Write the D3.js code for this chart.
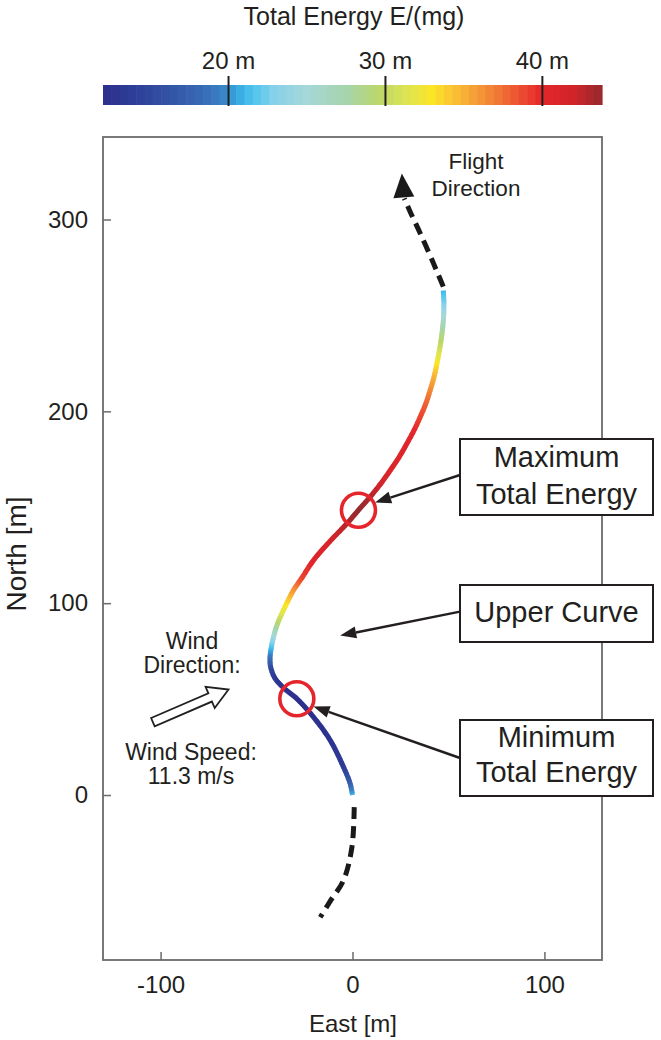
<!DOCTYPE html>
<html><head><meta charset="utf-8">
<script src="https://cdn.jsdelivr.net/npm/d3@7"></script>
<style>
body{margin:0;background:#fff}
text{font-family:"Liberation Sans",Arial,Helvetica,sans-serif;fill:#231f20}
</style>
</head><body>
<svg id="chart" width="661" height="1040"></svg>
<script>
// ---------- data ----------
// trajectory segment with energy colouring (East [m], North [m], E/(mg) [m])
const eastM  = [0, -1.2, -4.7, -11.6, -20.3, -29, -35.5, -40.3, -42.5, -43, -42.3, -41, -39.2, -36.8, -34, -30.8, -26.5, -20.3, -12, -2.9, 3.1, 9.2, 14.5, 19.7, 24.5, 28.4, 32, 35.3, 38.2, 40.5, 42.5, 44, 45.5, 46.8, 47.5, 47.6, 47.3];
const northM = [0, 5.9, 14.6, 28.5, 40.6, 50.2, 55.5, 60.7, 66, 71, 77, 83, 89, 94.6, 100.5, 106.7, 113, 122.4, 132, 141.5, 148.5, 155.4, 162, 169.3, 176.5, 183.3, 190, 197.1, 204, 211.1, 218, 225, 233, 242, 250, 257, 263];
const energy = [21, 17.5, 13.5, 12.5, 12.2, 12, 12.3, 13, 15, 18.5, 21.5, 25, 29, 31.5, 33.5, 36, 39, 40.3, 41.5, 43, 43.8, 43, 41.8, 41, 40.6, 40.5, 40, 39, 38, 36.5, 35, 33, 30.5, 28, 25, 22.5, 21];
// dashed continuation before and after
const lowerDashEast  = [0.9, -0.3, -4.7, -11.6, -16.8];
const lowerDashNorth = [-6.3, -27.2, -44.5, -55.3, -63.7];
const upperDashEast  = [47.3, 44.8, 41.4, 35.2, 30.5, 27];
const upperDashNorth = [265, 271, 279, 293, 303, 311];
const flightTip = [25.7, 324];
// marked points
const markEast  = [3.1, -29];
const markNorth = [148.4, 50.2];
// ticks
const xTicks = [-100, 0, 100];
const yTicks = [0, 100, 200, 300];
const cbTicks = [20, 30, 40];
const cbTickLabels = ["20 m", "30 m", "40 m"];
// colour map of the colour bar
const cbStops  = [12, 14, 16, 18, 19.5, 20.5, 21.5, 23, 25, 27.5, 29.5, 31.5, 33, 34.5, 36.5, 38.5, 40, 42, 43.8];
const cbColors = ["#2c2f8c","#2e3f99","#3251a3","#3767b2","#3a7fc2","#35a6df","#4dc3ee","#8ad1ea","#a5d8d8","#a6d4ac","#bad66c","#e0e54f","#fbe525","#f9bd35","#f38a36","#ec5231","#e4262b","#d02429","#952a2e"];
// annotation labels
const boxLabels = [["Maximum","Total Energy"],["Upper Curve"],["Minimum","Total Energy"]];
const boxTipEast  = [11.8, -6.4, -20.3];
const boxTipNorth = [152.5, 83.1, 46.1];

// ---------- layout ----------
const svg = d3.select("#chart");
const x = d3.scaleLinear().domain([-130, 130]).range([103, 602]);
const y = d3.scaleLinear().domain([-86, 343]).range([960, 137]);
const cbDomain = [12, 43.8];
const cb = d3.scaleLinear().domain(cbDomain).range([103, 602]);
const color = d3.scaleLinear().domain(cbStops).range(cbColors).interpolate(d3.interpolateRgb).clamp(true);
const ink = "#231f20";

// ---------- colour bar ----------
const nBlocks = 60;
const bw = (cbDomain[1] - cbDomain[0]) / nBlocks;
const blocks = d3.range(nBlocks).map(i => cbDomain[0] + i * bw);
svg.append("g").selectAll("rect").data(blocks).join("rect")
  .attr("x", d => cb(d)).attr("y", 85)
  .attr("width", d => cb(d + bw) - cb(d) + 0.6).attr("height", 20)
  .attr("fill", d => color(d + bw / 2));
svg.append("g").selectAll("line").data(cbTicks).join("line")
  .attr("x1", d => cb(d)).attr("x2", d => cb(d)).attr("y1", 76).attr("y2", 106)
  .attr("stroke", ink).attr("stroke-width", 2);
svg.append("g").selectAll("text").data(cbTicks).join("text")
  .attr("x", d => cb(d)).attr("y", 69).attr("text-anchor", "middle")
  .attr("font-size", 24).text((d, i) => cbTickLabels[i]);
svg.append("text").attr("x", 354).attr("y", 25).attr("text-anchor", "middle")
  .attr("font-size", 25).text("Total Energy E/(mg)");

// ---------- frame and axes ----------
svg.append("rect").attr("x", 103).attr("y", 137).attr("width", 499).attr("height", 823)
  .attr("fill", "none").attr("stroke", "#6b6b6b").attr("stroke-width", 1.8);

const gx = svg.append("g").attr("transform", "translate(0,960)")
  .call(d3.axisBottom(x).tickValues(xTicks).tickSize(-8).tickPadding(16).tickFormat(d3.format("d")));
const gy = svg.append("g").attr("transform", "translate(103,0)")
  .call(d3.axisLeft(y).tickValues(yTicks).tickSize(-8).tickPadding(15).tickFormat(d3.format("d")));
[gx, gy].forEach(g => {
  g.select(".domain").remove();
  g.selectAll(".tick line").attr("stroke", "#6b6b6b").attr("stroke-width", 1.5);
  g.selectAll(".tick text").attr("font-size", 24).attr("font-family", '"Liberation Sans",Arial,sans-serif').attr("fill", ink);
});
gx.selectAll(".tick text").text(d => d < 0 ? "-" + Math.abs(d) : d);

svg.append("text").attr("x", 353).attr("y", 1032).attr("text-anchor", "middle")
  .attr("font-size", 24).text("East [m]");
svg.append("text").attr("transform", "translate(26,554) rotate(-90)").attr("text-anchor", "middle")
  .attr("font-size", 28).text("North [m]");

// ---------- trajectory (colour coded) ----------
const lineGen = d3.line().curve(d3.curveCatmullRom.alpha(0.5));
const pts = eastM.map((e, i) => [x(e), y(northM[i])]);
const guide = svg.append("path").attr("d", lineGen(pts)).attr("fill", "none").attr("stroke", "none");
const probe = svg.append("path").attr("fill", "none").attr("stroke", "none");
const gNode = guide.node();
const total = gNode.getTotalLength();
const cum = pts.map((p, i) => {
  if (i === 0) return 0;
  probe.attr("d", lineGen(pts.slice(0, i + 1)));
  return probe.node().getTotalLength();
});
cum[cum.length - 1] = total;
const lenToE = d3.scaleLinear().domain(cum).range(energy).clamp(true);
const step = 1.5;
const segs = [];
for (let s = 0; s < total; s += step) {
  const a = gNode.getPointAtLength(s);
  const b = gNode.getPointAtLength(Math.min(s + step + 0.7, total));
  segs.push({a, b, e: lenToE(s + step / 2)});
}
probe.remove();
svg.append("g").selectAll("line").data(segs).join("line")
  .attr("x1", d => d.a.x).attr("y1", d => d.a.y).attr("x2", d => d.b.x).attr("y2", d => d.b.y)
  .attr("stroke", d => color(d.e)).attr("stroke-width", 5).attr("stroke-linecap", "butt");

// ---------- dashed continuations ----------
const dashLine = d3.line().x(d => x(d[0])).y(d => y(d[1])).curve(d3.curveCatmullRom.alpha(0.5));
const lowerPts = lowerDashEast.map((e, i) => [e, lowerDashNorth[i]]);
const upperPts = upperDashEast.map((e, i) => [e, upperDashNorth[i]]);
[lowerPts, upperPts].forEach(p => {
  svg.append("path").attr("d", dashLine(p)).attr("fill", "none")
    .attr("stroke", "#1a1a1a").attr("stroke-width", 5).attr("stroke-dasharray", "12,7");
});
// flight direction arrowhead
function arrowHead(fx, fy, tx, ty, len, hw) {
  const dx = tx - fx, dy = ty - fy, L = Math.hypot(dx, dy);
  const ux = dx / L, uy = dy / L, bx = tx - ux * len, by = ty - uy * len;
  return {base: [bx, by], pts: [[tx, ty], [bx - uy * hw, by + ux * hw], [bx + uy * hw, by - ux * hw]]};
}
{
  const last = upperPts[upperPts.length - 1];
  const ah = arrowHead(x(last[0]), y(last[1]) + 4, x(flightTip[0]), y(flightTip[1]), 24, 10.5);
  svg.append("polygon").attr("points", ah.pts.map(p => p.join(",")).join(" ")).attr("fill", "#1a1a1a");
}

// ---------- marked extremes ----------
svg.append("g").selectAll("circle").data(markEast).join("circle")
  .attr("cx", d => x(d)).attr("cy", (d, i) => y(markNorth[i])).attr("r", 17)
  .attr("fill", "none").attr("stroke", "#e4252b").attr("stroke-width", 3.6);

// ---------- annotation boxes ----------
const boxTop = [439, 585, 720], boxH = [76, 57, 76];
const boxFrom = [475, 611.6, 758];
const boxBase = [[466.7, 504], [621.7], [746.7, 781.7]];
boxLabels.forEach((lab, i) => {
  const ah = arrowHead(460, boxFrom[i], x(boxTipEast[i]), y(boxTipNorth[i]), 16, 6);
  svg.append("line").attr("x1", 460).attr("y1", boxFrom[i]).attr("x2", ah.base[0]).attr("y2", ah.base[1])
    .attr("stroke", ink).attr("stroke-width", 2.4);
  svg.append("polygon").attr("points", ah.pts.map(p => p.join(",")).join(" ")).attr("fill", ink);
  svg.append("rect").attr("x", 460).attr("y", boxTop[i]).attr("width", 193).attr("height", boxH[i])
    .attr("fill", "#fff").attr("stroke", ink).attr("stroke-width", 2);
  lab.forEach((t, j) => {
    svg.append("text").attr("x", 556.5).attr("y", boxBase[i][j]).attr("text-anchor", "middle")
      .attr("font-size", 29).text(t);
  });
});

// ---------- flight direction / wind ----------
svg.append("text").attr("x", 476).attr("y", 169).attr("text-anchor", "middle").attr("font-size", 22.5).text("Flight");
svg.append("text").attr("x", 476).attr("y", 196).attr("text-anchor", "middle").attr("font-size", 22.5).text("Direction");

svg.append("text").attr("x", 192).attr("y", 649).attr("text-anchor", "middle").attr("font-size", 23).text("Wind");
svg.append("text").attr("x", 192).attr("y", 673).attr("text-anchor", "middle").attr("font-size", 23).text("Direction:");
svg.append("text").attr("x", 191).attr("y", 760).attr("text-anchor", "middle").attr("font-size", 23).text("Wind Speed:");
svg.append("text").attr("x", 191).attr("y", 784).attr("text-anchor", "middle").attr("font-size", 23).text("11.3 m/s");

{
  const tail = [x(-104), y(38)], tip = [x(-64.6), y(55)];
  const L = Math.hypot(tip[0] - tail[0], tip[1] - tail[1]);
  const ang = Math.atan2(tip[1] - tail[1], tip[0] - tail[0]) * 180 / Math.PI;
  const hl = 20, sw = 4.5, hw = 11.5;
  const shape = [[0, -sw], [L - hl, -sw], [L - hl, -hw], [L, 0], [L - hl, hw], [L - hl, sw], [0, sw]];
  svg.append("polygon").attr("points", shape.map(p => p.join(",")).join(" "))
    .attr("transform", `translate(${tail[0]},${tail[1]}) rotate(${ang})`)
    .attr("fill", "#fff").attr("stroke", ink).attr("stroke-width", 1.8).attr("stroke-linejoin", "miter");
}
</script>
</body></html>
